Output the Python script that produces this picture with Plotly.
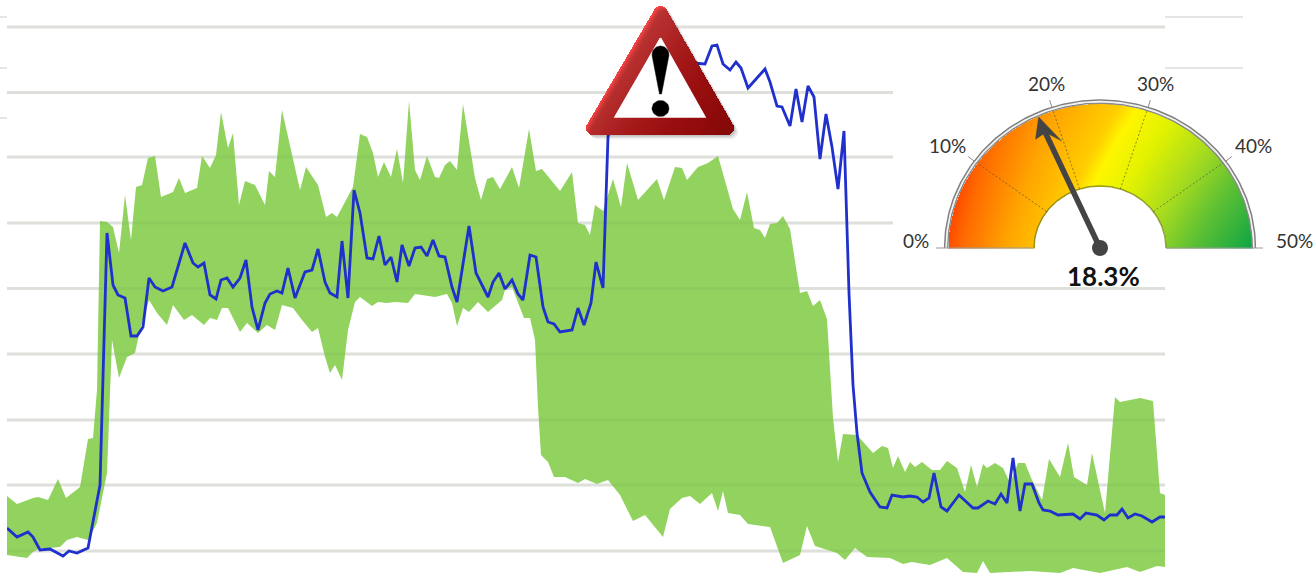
import numpy as np
import plotly.graph_objects as go

# ---------- main chart data (y axis runs top-down) ----------
line_x = [7,17,28,33,40,50,63,69,77,88,100,107,113,118,125,131,137,143,149,155,163,172,185,193,198,204,210,216,221,227,233,240,246,252,258,265,270,277,282,288,295,305,312,318,325,330,
          337,342,348,354,360,367,373,379,385,391,397,402,409,415,421,427,433,439,445,452,457,469,476,488,493,499,505,512,518,523,530,536,543,548,554,560,572,578,584,591,596,603,608,
          616,630,650,680,698,705,712,717,723,730,736,741,748,765,770,777,782,790,796,802,808,814,820,826,832,838,844,847,849,853,857,862,870,880,887,892,903,910,917,923,929,934,941,947,959,973,978,988,995,1001,1007,1013,1020,1025,1032,1039,1043,1050,1058,1073,1080,1086,1097,1104,1110,1117,1122,1128,1135,1142,1152,1160,1165]
line_y = [528,537,532,537,550,549,556,551,553,548,485,233,285,295,298,336,336,327,278,287,291,287,243,263,267,263,295,299,280,278,287,278,260,307,330,303,294,291,293,268,298,272,270,249,282,293,
          297,241,298,190,213,258,259,236,265,257,282,245,266,248,247,256,240,256,257,287,302,226,273,297,282,273,289,280,294,300,255,257,307,322,324,332,330,308,325,303,262,288,137,
          95,70,60,62,63,64,46,45,64,70,62,68,88,69,82,106,107,126,89,122,86,97,159,114,147,189,131,227,293,385,433,473,492,507,508,495,497,496,497,502,498,473,507,511,495,508,508,501,504,494,503,458,511,484,484,503,510,511,515,514,519,513,515,520,515,515,509,518,514,516,522,517,517]

upper_x = [7,17,33,38,48,58,66,80,88,93,97,100,107,113,119,125,131,136,142,148,155,161,173,179,185,197,202,210,216,221,228,233,239,245,255,265,269,275,282,292,300,306,318,326,332,337,353,360,367,373,378,384,391,397,403,409,415,420,427,435,439,445,450,457,463,475,481,487,493,500,512,519,529,536,542,560,572,578,585,590,595,603,613,621,627,638,657,664,675,682,687,698,708,718,733,740,747,754,760,765,770,777,783,790,800,807,813,820,827,833,838,843,857,873,882,888,893,898,905,910,915,922,932,940,947,957,965,971,977,983,987,995,1003,1010,1018,1025,1032,1042,1049,1060,1068,1074,1087,1092,1098,1105,1115,1120,1140,1153,1160,1165]
upper_y = [496,504,498,497,500,479,498,487,439,438,390,221,222,227,253,195,240,187,185,158,156,197,192,178,193,188,156,168,155,112,148,133,205,181,185,205,171,177,110,153,190,167,185,217,213,217,187,134,137,153,177,162,177,149,183,101,170,180,156,177,178,165,161,170,104,178,200,179,177,189,167,188,129,171,169,191,172,223,225,235,205,211,179,207,163,200,179,200,167,168,180,167,163,156,209,220,192,228,230,238,224,223,216,229,293,291,306,300,319,418,462,434,435,453,446,448,468,456,472,462,467,462,470,470,461,468,492,465,487,464,468,463,468,483,463,463,480,500,459,477,443,477,485,453,480,513,397,402,398,401,493,495]

lower_x = [7,27,33,40,50,60,67,77,88,97,107,110,112,119,127,135,140,149,157,167,173,184,192,204,210,217,222,228,240,247,258,267,275,282,293,302,312,318,325,330,335,342,348,355,360,372,378,387,395,408,415,435,447,452,457,463,469,478,488,502,505,512,524,530,535,538,541,548,554,565,578,585,597,608,620,633,645,663,670,682,690,700,712,718,723,728,740,748,770,783,800,807,815,837,845,855,867,890,903,912,930,947,963,977,983,990,1030,1060,1073,1100,1127,1140,1157,1165]
lower_y = [555,558,552,548,548,547,540,537,540,523,473,380,340,378,357,353,330,300,313,325,305,320,315,325,318,320,308,308,332,323,333,325,330,305,308,320,332,328,357,373,365,380,330,302,297,306,302,303,302,303,294,297,294,303,326,308,312,302,312,300,290,287,318,318,340,407,455,462,477,477,483,479,484,480,495,521,515,537,509,498,496,504,493,511,491,513,515,524,527,563,555,526,546,553,560,548,557,558,564,562,565,558,572,573,561,573,571,573,568,573,567,572,566,567]

grid_y = [27,92.5,157,223,288.5,354,420,485,551]
grid_end = [1165,893,893,893,1165,1165,1165,1165,1165]
stub_left_y = [17,68,118]
stub_right_y = [17,68]

# ---------- gauge data ----------
gauge_value = 18.3
gauge_ticks = [0,10,20,30,40,50]
gauge_labels = ["0%","10%","20%","30%","40%","50%"]
gauge_value_label = "18.3%"

GREEN = "#92D35F"
BLUE = "#2030CC"
FONT = "Lato, Carlito, Calibri, sans-serif"

fig = go.Figure()

def segs(ys, x0, x1s):
    xs, yy = [], []
    for y, x1 in zip(ys, x1s):
        xs += [x0, x1, None]
        yy += [y, y, None]
    return xs, yy

gx, gy = segs(grid_y, 7, grid_end)
fig.add_trace(go.Scatter(x=gx, y=gy, mode="lines", line=dict(color="#E9E9E9", width=3.2), hoverinfo="skip", showlegend=False))
fig.add_trace(go.Scatter(x=lower_x, y=lower_y, mode="lines", line=dict(color=GREEN, width=0), hoverinfo="skip", showlegend=False))
fig.add_trace(go.Scatter(x=upper_x, y=upper_y, mode="lines", line=dict(color=GREEN, width=0), fill="tonexty", fillcolor=GREEN, hoverinfo="skip", showlegend=False))
fig.add_trace(go.Scatter(x=gx, y=gy, mode="lines", line=dict(color="rgba(90,120,60,0.07)", width=3), hoverinfo="skip", showlegend=False))
fig.add_trace(go.Scatter(x=line_x, y=line_y, mode="lines", line=dict(color=BLUE, width=2.8), hoverinfo="skip", showlegend=False))

# ---------- overlay in picture space ----------
def ov(**kw):
    fig.add_trace(go.Scatter(xaxis="x2", yaxis="y2", hoverinfo="skip", showlegend=False, **kw))

# stubs outside the plot area
sx, sy = segs(stub_left_y, 0, [7]*3)
ov(x=sx, y=sy, mode="lines", line=dict(color="#DDDDDD", width=1.5))
sx, sy = segs(stub_right_y, 1165, [1243]*2)
ov(x=sx, y=sy, mode="lines", line=dict(color="#DDDDDD", width=1.5))

# ---------- warning triangle ----------
TA = np.array([660.5, 13.0]); TB = np.array([593.0, 128.0]); TC = np.array([727.0, 128.0]); TR = 7.0

def seg_dist(px, py, a, b):
    d = b - a
    t = np.clip(((px-a[0])*d[0] + (py-a[1])*d[1]) / (d @ d), 0, 1)
    return np.hypot(px-(a[0]+t*d[0]), py-(a[1]+t*d[1]))

def tri_inside(px, py, a, b, c):
    def s(p, q):
        return (px-q[0])*(p[1]-q[1]) - (p[0]-q[0])*(py-q[1])
    d1, d2, d3 = s(a, b), s(b, c), s(c, a)
    return ~(((d1 < 0) | (d2 < 0) | (d3 < 0)) & ((d1 > 0) | (d2 > 0) | (d3 > 0)))

# soft shadow
for off, alpha in ((4.5, 0.05), (3, 0.08), (1.5, 0.12)):
    pts = [(TA, -150, -30), (TC, -30, 90), (TB, 90, 210)]
    xs, ys = [], []
    for c, a0, a1 in pts:
        aa = np.radians(np.linspace(a0, a1, 8))
        xs += list(c[0] + TR*np.cos(aa) + off)
        ys += list(c[1] + TR*np.sin(aa) + off)
    ov(x=xs+xs[:1], y=ys+ys[:1], mode="lines", fill="toself", fillcolor=f"rgba(0,0,0,{alpha})", line=dict(width=0))

tx = np.arange(580, 742, 0.5); ty = np.arange(2, 140, 0.5)
PX, PY = np.meshgrid(tx, ty)
mask = tri_inside(PX, PY, TA, TB, TC) | (seg_dist(PX, PY, TA, TB) <= TR) | (seg_dist(PX, PY, TB, TC) <= TR) | (seg_dist(PX, PY, TC, TA) <= TR)
tz = (PX-586)/148*0.62 + (PY-6)/129*0.38
tz = np.where(mask, tz, np.nan)
fig.add_trace(go.Heatmap(x=tx, y=ty, z=[[None if np.isnan(v) else float(v) for v in row] for row in tz], xaxis="x2", yaxis="y2",
    zmin=0, zmax=1, showscale=False, hoverinfo="skip",
    colorscale=[[0,"#FF6060"],[0.35,"#F04040"],[0.55,"#D82222"],[0.75,"#C41212"],[1,"#AE0C0C"]]))
# inner white triangle
ov(x=[660.5,705,615,660.5], y=[38,117,117,38], mode="lines", fill="toself", fillcolor="#FFFFFF", line=dict(color="#FFFFFF", width=1.5))
# exclamation mark body + dot
ea = np.radians(np.linspace(180, 360, 24))
ex = list(660.5 + 8.5*np.cos(ea)) + [661.5, 659.5]
ey = list(55 + 9*np.sin(ea)) + [94, 94]
ov(x=ex+ex[:1], y=ey+ey[:1], mode="lines", fill="toself", fillcolor="#000000", line=dict(color="#000000", width=0.5))
da = np.linspace(0, 2*np.pi, 40)
ov(x=660.5 + 8.5*np.cos(da), y=108.5 + 8*np.sin(da), mode="lines", fill="toself", fillcolor="#000000", line=dict(color="#000000", width=0.5))

# ---------- gauge ----------
CX, CY = 1100.0, 248.0
RX, RY = 152.0, 144.5
IX, IY = 66.0, 62.0

def pol(val, rx, ry):
    a = np.radians(180 - val*3.6)
    return CX + rx*np.cos(a), CY - ry*np.sin(a)

def arc(rx, ry):
    vals = np.linspace(0, 50, 180)
    return pol(vals, rx, ry)

hx = np.arange(945, 1256, 1.0); hy = np.arange(100, 249, 1.0)
HX, HY = np.meshgrid(hx, hy)
UU = HX - CX; VV = CY - HY
inside = ((UU/RX)**2 + (VV/RY)**2 <= 1.0) & ((UU/IX)**2 + (VV/IY)**2 >= 1.0)
KK = 0.2 + 0.5*(UU+150)/300
TT = UU - VV*KK
hz = np.where(inside, TT, np.nan)
tmin, tmax = -170.0, 150.0
stops = [(-170,"#FF2A00"),(-139,"#FF6A00"),(-95,"#FFA500"),(-50,"#FFCE00"),(-35,"#FFF500"),(-3,"#E2F200"),(45,"#A4DA20"),(86,"#62C232"),(150,"#0EA544")]
fig.add_trace(go.Heatmap(x=hx, y=hy, z=[[None if np.isnan(v) else float(v) for v in row] for row in hz], xaxis="x2", yaxis="y2",
    zmin=tmin, zmax=tmax, showscale=False, hoverinfo="skip",
    colorscale=[[(t-tmin)/(tmax-tmin), c] for t, c in stops]))

# band rim, inner edge, baseline
ax, ay = arc(IX, IY)
ov(x=ax, y=ay, mode="lines", line=dict(color="rgba(120,130,20,0.75)", width=1.5))
ax, ay = arc(RX+0.3, RY+0.3)
ov(x=ax, y=ay, mode="lines", line=dict(color="#8A8A8A", width=1.5))
ax, ay = arc(RX+1.9, RY+1.9)
ov(x=ax, y=ay, mode="lines", line=dict(color="#F0F0F0", width=1.2))
ax, ay = arc(RX+3.4, RY+3.4)
ov(x=ax, y=ay, mode="lines", line=dict(color="#808080", width=1.5))
ov(x=[936,1034,None,1166,1263], y=[CY,CY,None,CY,CY], mode="lines", line=dict(color="#9A9A9A", width=1.2))

# dashed dividers and outer ticks
for v in gauge_ticks[1:-1]:
    x0, y0 = pol(v, IX, IY); x1, y1 = pol(v, RX, RY)
    ov(x=[x0,x1], y=[y0,y1], mode="lines", line=dict(color="rgba(70,70,50,0.75)", width=0.8, dash="2px,2px"))
    x0, y0 = pol(v, RX+3, RY+3); x1, y1 = pol(v, RX+11, RY+11)
    ov(x=[x0,x1], y=[y0,y1], mode="lines", line=dict(color="#8A8A8A", width=1))

# needle
DARK = "#444444"
tipx, tipy = pol(gauge_value, RX-2, RY-1)
shx, shy = pol(gauge_value, RX-18, RY-18)
ov(x=[CX, shx], y=[CY, shy], mode="lines", line=dict(color=DARK, width=5.5))
a = np.radians(180 - gauge_value*3.6)
dirx, diry = np.cos(a), -np.sin(a)
nx, ny = -diry, dirx
ov(x=[tipx, tipx-dirx*31+nx*11, tipx-dirx*17, tipx-dirx*19-nx*12, tipx],
   y=[tipy, tipy-diry*31+ny*11, tipy-diry*17, tipy-diry*19-ny*12, tipy],
   mode="lines", fill="toself", fillcolor=DARK, line=dict(color=DARK, width=0.5))
ov(x=[CX], y=[CY], mode="markers", marker=dict(color=DARK, size=16))

# gauge text
label_pos = [(931,240,"right"),(947.5,145,"center"),(1046,83,"center"),(1155.5,83,"center"),(1253,145,"center"),(1274,240,"left")]
annotations = []
for (x, y, anc), txt in zip(label_pos, gauge_labels):
    annotations.append(dict(x=x, y=y, xref="x2", yref="y2", text=txt, showarrow=False, xanchor=anc, yanchor="middle",
                            font=dict(family=FONT, size=19, color="#333333")))
annotations.append(dict(x=1103, y=276, xref="x2", yref="y2", text=f"<b>{gauge_value_label}</b>", showarrow=False,
                        xanchor="center", yanchor="middle", font=dict(family=FONT, size=26, color="#111111")))

fig.update_layout(
    width=1314, height=573, autosize=False, margin=dict(l=0, r=0, t=0, b=0),
    paper_bgcolor="#FFFFFF", plot_bgcolor="rgba(0,0,0,0)", showlegend=False,
    xaxis=dict(domain=[7/1314, 1165/1314], range=[7, 1165], visible=False, fixedrange=True),
    yaxis=dict(domain=[0, 1], range=[573, 0], visible=False, fixedrange=True),
    xaxis2=dict(domain=[0, 1], range=[0, 1314], visible=False, anchor="y2", fixedrange=True),
    yaxis2=dict(domain=[0, 1], range=[573, 0], visible=False, anchor="x2", fixedrange=True),
    annotations=annotations,
)
fig.write_html("out.html", config={"displayModeBar": False},
               post_script="document.body.style.margin='0';document.documentElement.style.overflow='hidden';")
